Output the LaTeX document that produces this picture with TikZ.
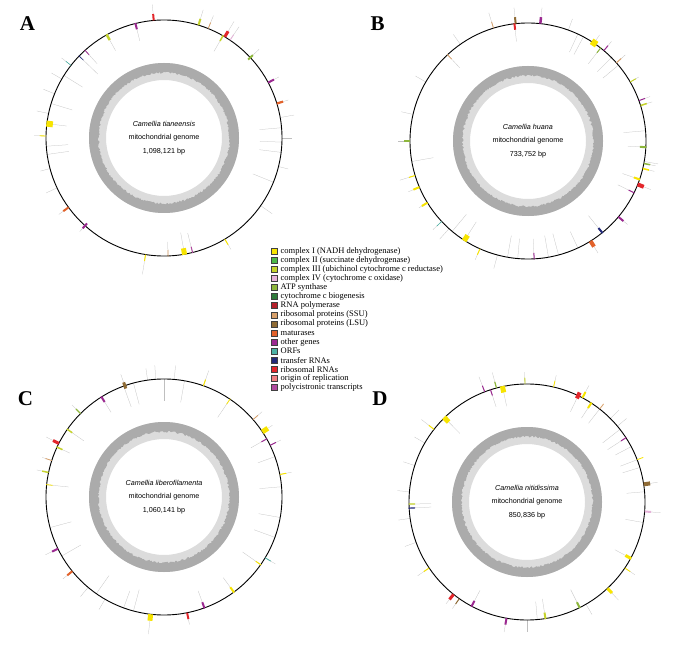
\documentclass[tikz,border=0pt]{standalone}
\usepackage{fontspec}
\setmainfont{Liberation Serif}
\setsansfont{Liberation Sans}

\definecolor{nadh}{HTML}{F7E400}
\definecolor{sdh}{HTML}{4DB848}
\definecolor{cob}{HTML}{C5D32C}
\definecolor{cox}{HTML}{E6B3D9}
\definecolor{atp}{HTML}{8DB63C}
\definecolor{ccm}{HTML}{2E7A3A}
\definecolor{rpo}{HTML}{B5212B}
\definecolor{rps}{HTML}{D8A06A}
\definecolor{rpl}{HTML}{8F6B35}
\definecolor{mat}{HTML}{E2622B}
\definecolor{oth}{HTML}{9B2990}
\definecolor{orf}{HTML}{4CB2A5}
\definecolor{trn}{HTML}{232A7A}
\definecolor{rrn}{HTML}{E3262B}
\definecolor{ori}{HTML}{F07F82}
\definecolor{poly}{HTML}{B04B9E}
\definecolor{gclight}{HTML}{DCDCDC}
\definecolor{gcdark}{HTML}{ABABAB}

\tikzset{
  genome/.style={draw=black, line width=0.9pt},
  leader/.style={draw=black!25, line width=0.25pt},
  legbox/.style={draw=black!75, line width=0.3pt, minimum size=6pt, inner sep=0pt},
  legtext/.style={font=\fontsize{8.5}{9}\selectfont, anchor=west, inner sep=0pt},
  maptext/.style={font=\sffamily\fontsize{7.2}{13.2}\selectfont, align=center},
  panel/.style={font=\bfseries\fontsize{21}{21}\selectfont, anchor=base, inner sep=0pt}
}

% one circular map: centre, genes (angle/colour/radius/width/leader end), tRNA leaders (angle/end)
\newcommand{\genemap}[3]{%
  \begin{scope}[shift={(#1)}]
    \fill[gclight, even odd rule] (0,0) circle (75) (0,0) circle (58);
    \fill[gcdark, even odd rule] (0,0) circle (75)
      plot[domain=0:359, samples=360] (\x:{64.5+2*rnd}) -- cycle;
    \foreach \a/\p in {#3} {\draw[leader] ({\a-90}:118) -- ({\a-90}:\p);}
    \foreach \a/\c/\r/\w/\l in {#2} {\draw[leader] ({\a-90}:118) -- ({\a-90}:\l);}
    \draw[genome] (0,0) circle (118);
    \foreach \a/\c/\r/\w/\l in {#2} {\draw[\c, line width=\w] ({\a-90}:\r) -- ({\a-90}:{\r+6.5});}
  \end{scope}}

\begin{document}
\begin{tikzpicture}[x=1pt, y=-1pt]
\pgfmathsetseed{7}
\fill[white] (0,0) rectangle (685,647);
\useasboundingbox (0,0) rectangle (685,647);

\coordinate (A) at (164,138);
\coordinate (B) at (528,141);
\coordinate (C) at (164,497);
\coordinate (D) at (527,502);

% A
\genemap{A}{355/rrn/118/2pt/134, 17/cob/118/2pt/134, 22/rps/118/0.8pt/132, 31/rrn/118/3pt/136,
  34/cox/118/0.8pt/134, 30/cob/112/1.5pt/100, 47/atp/115/2pt/130, 62/oth/118/2pt/130,
  73/mat/118/2.2pt/130, 149/nadh/118/1pt/130, 166/poly/112/1pt/98, 170/nadh/112/5pt/96,
  178/rps/112/0.8pt/104, 189/nadh/118/1pt/138, 222/oth/115/2pt/126, 234/mat/118/2pt/130,
  271/nadh/118/0.8pt/130, 277/nadh/112/6pt/98, 308/orf/118/0.6pt/130, 314/trn/112/0.6pt/92,
  318/oth/112/0.8pt/100, 331/cob/112/2.5pt/100, 346/oth/112/2pt/100}
  {80/132, 85/96, 90/128, 92/96, 97/96, 104/128, 112/96, 125/132, 245/130, 255/128,
  262/96, 266/96, 282/130, 287/96, 292/130, 302/96, 300/130}
\node[maptext] (textA) at (A) {\textit{Camellia tianeensis}\\mitochondrial genome\\1,098,121 bp};
\node[panel] (labA) at (27.5,31) {A};

% B
\genemap{B}{353.4/rrn/112/2pt/100, 354/rpl/118/2pt/134, 6/oth/118/2.5pt/134, 34/nadh/115/6pt/128,
  38/atp/112/1pt/98, 40/oth/118/1pt/130, 48.5/rps/118/1pt/130, 60/cob/118/1pt/128,
  70/oth/118/1pt/130, 72.5/cob/118/1.5pt/130, 93/atp/112/2pt/100, 101/atp/118/1.5pt/130,
  103.5/nadh/118/1.5pt/130, 109/nadh/112/2pt/100, 111.6/rrn/118/4pt/132, 116/oth/112/1pt/100,
  130/oth/118/2pt/130, 141/trn/112/2pt/96, 148/mat/118/4pt/132, 177/oth/112/1pt/98,
  204/nadh/118/1pt/130, 212.6/nadh/112/5pt/96, 227/orf/118/0.6pt/130, 238.5/nadh/118/2pt/128,
  247/nadh/118/2pt/130, 253/nadh/118/1pt/134, 270/atp/118/1.2pt/130, 317/rps/112/0.8pt/100,
  343/rps/118/0.8pt/134}
  {20/130, 25/98, 28/98, 45/98, 50/98, 85/96, 100/132, 155/100, 165/96, 170/96, 185/98,
  190/96, 195/132, 220/96, 222/132, 260/96, 283/130, 300/130, 325/130}
\node[maptext] (textB) at (B) {\textit{Camellia huana}\\mitochondrial genome\\733,752 bp};
\node[panel] (labB) at (377.5,30.7) {B};

% C
\genemap{C}{340.6/rpl/115/3pt/130, 328/oth/112/2pt/100, 315/atp/118/1.2pt/130, 305/cob/112/1.5pt/98,
  297/rrn/118/3pt/132, 295/cob/112/1.5pt/104, 288/rps/118/0.8pt/128, 282/cob/118/1.5pt/130,
  276/nadh/112/0.8pt/96, 244/oth/118/2pt/132, 231/mat/118/2pt/130, 186.5/nadh/118/5pt/138,
  168.7/rrn/118/2pt/130, 160/oth/112/2pt/100, 143.7/nadh/112/2pt/100, 125/nadh/112/1pt/96,
  121/orf/118/0.8pt/130, 79/nadh/118/1pt/130, 56.5/nadh/118/5pt/130, 60.5/oth/112/1pt/100,
  64/oth/118/1pt/130, 49/rps/118/0.8pt/130, 19.5/nadh/118/1pt/134, 34/nadh/112/0.8pt/96}
  {352/130, 356/132, 5/132, 10/96, 340/96, 345/96, 0/96, 70/100, 85/96, 100/96, 110/96,
  195/96, 200/100, 210/130, 215/96, 220/130, 240/96, 255/96}
\node[maptext] (textC) at (C) {\textit{Camellia liberofilamenta}\\mitochondrial genome\\1,060,141 bp};
\node[panel] (labC) at (25.5,405) {C};

% D
\genemap{D}{348/nadh/112/5pt/98, 345/atp/118/1.2pt/134, 339/oth/118/1pt/134, 342/oth/112/1pt/100,
  359/cob/118/0.8pt/130, 13/nadh/118/0.8pt/130, 25.7/rrn/115/4pt/100, 28/nadh/118/2pt/132,
  33/nadh/112/2pt/100, 38/rps/118/0.8pt/100, 57/oth/112/1pt/96, 69/nadh/118/0.8pt/100,
  81.4/rpl/118/4pt/132, 94.6/cox/118/2pt/134, 118.5/nadh/112/3pt/100, 124/nadh/118/0.8pt/130,
  137/nadh/118/3pt/134, 153.5/atp/112/2pt/98, 171/cob/112/2pt/98, 190/oth/118/2pt/132,
  208/oth/112/2pt/100, 218.5/rrn/118/3pt/130, 215/rpl/118/1pt/130, 236/nadh/118/1pt/132,
  267/trn/112/1.2pt/96, 269/cob/112/1.2pt/96, 308/nadh/118/1pt/134, 315.6/nadh/112/5pt/96}
  {45/130, 50/130, 52/96, 62/100, 73/100, 85/100, 100/100, 150/130, 175/100, 180/130,
  250/130, 262/130, 275/130, 288/130, 300/130}
\node[maptext] (textD) at (D) {\textit{Camellia nitidissima}\\mitochondrial genome\\850,836 bp};
\node[panel] (labD) at (380,405) {D};

% legend
\foreach \c/\t [count=\i] in {nadh/complex I (NADH dehydrogenase), sdh/complex II (succinate dehydrogenase),
  cob/complex III (ubichinol cytochrome c reductase), cox/complex IV (cytochrome c oxidase),
  atp/ATP synthase, ccm/cytochrome c biogenesis, rpo/RNA polymerase, rps/ribosomal proteins (SSU),
  rpl/ribosomal proteins (LSU), mat/maturases, oth/other genes, orf/ORFs, trn/transfer RNAs,
  rrn/ribosomal RNAs, ori/origin of replication, poly/polycistronic transcripts} {
  \node[legbox, fill=\c] (key\i) at (274,{251+9.1*(\i-1)}) {};
  \node[legtext] (item\i) at (280.5,{251+9.1*(\i-1)}) {\t};
}
\end{tikzpicture}
\end{document}
